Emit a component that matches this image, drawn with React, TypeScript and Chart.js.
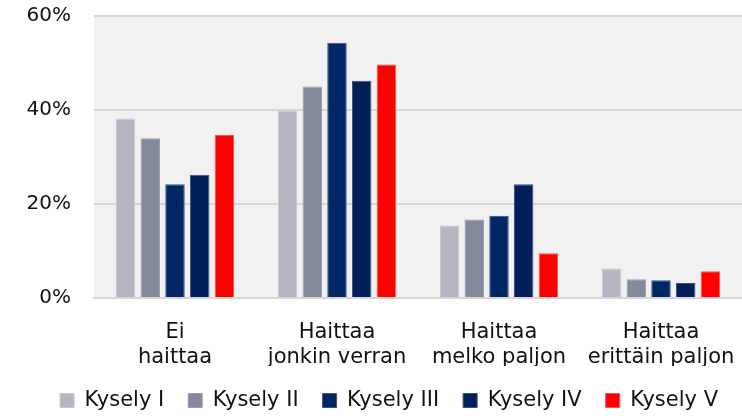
import React, { useEffect, useRef } from "react";
import { Chart, registerables } from "chart.js";

Chart.register(...registerables);

const categories: string[][] = [
  ["Ei", "haittaa"],
  ["Haittaa", "jonkin verran"],
  ["Haittaa", "melko paljon"],
  ["Haittaa", "erittäin paljon"],
];
const seriesNames = ["Kysely I", "Kysely II", "Kysely III", "Kysely IV", "Kysely V"];
const kysely1 = [38.2, 39.8, 15.4, 6.3];
const kysely2 = [34.0, 45.0, 16.7, 4.0];
const kysely3 = [24.2, 54.3, 17.5, 3.8];
const kysely4 = [26.2, 46.2, 24.2, 3.2];
const kysely5 = [34.7, 49.7, 9.5, 5.7];
const yTicks = [0, 20, 40, 60];

const colors = ["#b6b6c3", "#85899d", "#012664", "#01205a", "#ff0000"];
const borders = ["#c8c8d2", "#9a9dae", "#3a5488", "#3a5080", "#ff5050"];

const FONT = "'DejaVu Sans', 'Liberation Sans', sans-serif";

const bgPlugin = {
  id: "plotBg",
  beforeDraw(chart: any) {
    const { ctx, chartArea } = chart;
    if (!chartArea) return;
    ctx.save();
    ctx.fillStyle = "#f1f1f1";
    ctx.fillRect(chartArea.left, chartArea.top, chartArea.right - chartArea.left, chartArea.bottom - chartArea.top);
    ctx.restore();
  },
};

export default function App() {
  const ref = useRef<HTMLCanvasElement>(null);
  useEffect(() => {
    if (!ref.current) return;
    const data = [kysely1, kysely2, kysely3, kysely4, kysely5];
    const chart = new Chart(ref.current, {
      type: "bar",
      data: {
        labels: categories,
        datasets: seriesNames.map((n, i) => ({
          label: n,
          data: data[i],
          backgroundColor: colors[i],
          borderColor: borders[i],
          borderWidth: 1,
          categoryPercentage: 0.762,
          barPercentage: 0.79,
        })),
      },
      options: {
        animation: false,
        responsive: false,
        maintainAspectRatio: false,
        layout: { padding: { top: 0, right: 0, left: 0, bottom: 0 } },
        plugins: {
          tooltip: { enabled: false },
          legend: {
            position: "bottom",
            align: "end",
            maxHeight: 52,
            labels: {
              boxWidth: 14,
              boxHeight: 14,
              padding: 24,
              color: "#111",
              font: { family: FONT, size: 21 },
            },
          },
        },
        scales: {
          x: {
            grid: { display: false, drawTicks: false },
            border: { display: true, color: "#d6d6d6", width: 2 },
            afterFit: (a: any) => {
              a.height = 68;
              a.paddingLeft = 0;
              a.paddingRight = 0;
            },
            ticks: {
              color: "#111",
              font: { family: FONT, size: 21, lineHeight: 1.2 },
              maxRotation: 0,
              autoSkip: false,
              padding: 22,
            },
          },
          y: {
            min: 0,
            max: 60,
            afterBuildTicks: (axis: any) => {
              axis.ticks = yTicks.map((v) => ({ value: v }));
            },
            afterFit: (a: any) => {
              a.width = 94;
              a.paddingTop = 16;
              a.paddingBottom = 0;
            },
            grid: { color: "#d6d6d6", lineWidth: 2, drawTicks: false },
            border: { display: false },
            ticks: {
              color: "#111",
              font: { family: FONT, size: 20 },
              padding: 23,
              callback: (v: any) => v + "%",
            },
          },
        },
      },
      plugins: [bgPlugin],
    });
    return () => chart.destroy();
  }, []);
  return (
    <div style={{ position: "fixed", left: 0, top: 0, width: 742, height: 418, background: "#fff" }}>
      <canvas ref={ref} width={742} height={418} style={{ width: 742, height: 418 }} />
    </div>
  );
}
